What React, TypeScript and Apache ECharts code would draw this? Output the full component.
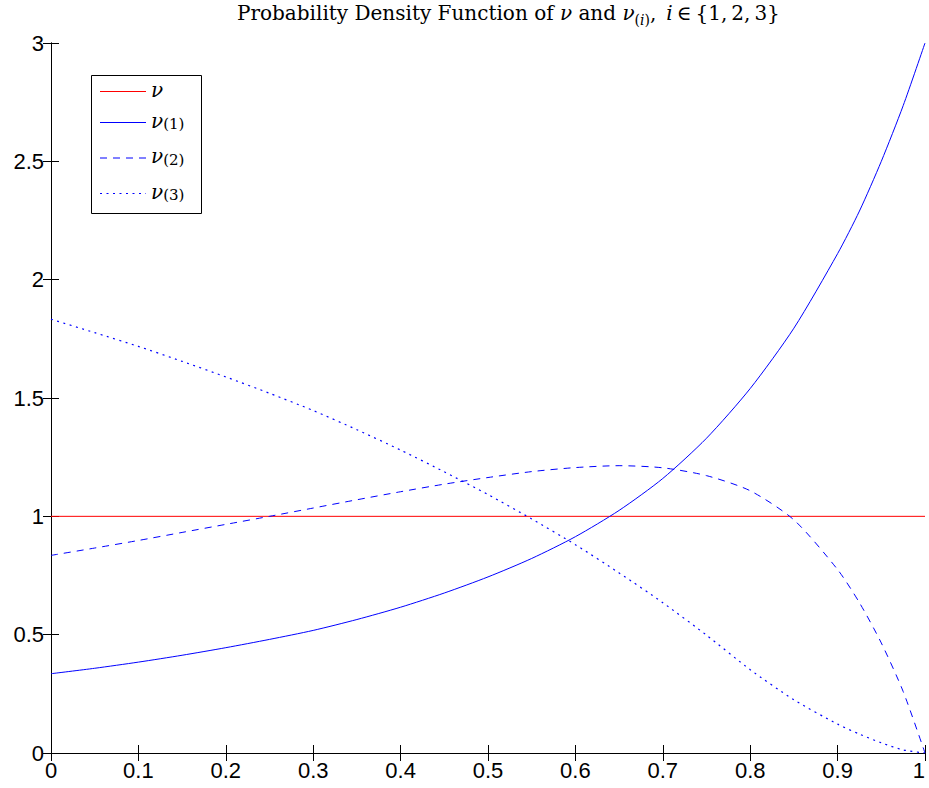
import React, { useEffect, useRef } from "react";
import * as echarts from "echarts";

// ---------- data ----------
const xValues = [0, 0.05, 0.1, 0.15, 0.2, 0.25, 0.3, 0.35, 0.4, 0.45, 0.5, 0.55, 0.6, 0.65, 0.7, 0.75, 0.8, 0.85, 0.9, 0.925, 0.95, 0.975, 1];
const nu1Values = [0.335, 0.358, 0.384, 0.413, 0.445, 0.48, 0.518, 0.564, 0.616, 0.676, 0.744, 0.822, 0.914, 1.025, 1.16, 1.33, 1.54, 1.795, 2.11, 2.29, 2.5, 2.735, 3.0];
const nu2Values = [0.835, 0.866, 0.898, 0.932, 0.966, 1.0, 1.035, 1.07, 1.104, 1.136, 1.164, 1.189, 1.206, 1.214, 1.205, 1.172, 1.108, 0.985, 0.775, 0.635, 0.465, 0.26, 0];
const nu3Values = [1.833, 1.776, 1.718, 1.655, 1.589, 1.52, 1.447, 1.366, 1.28, 1.188, 1.092, 0.989, 0.88, 0.761, 0.635, 0.498, 0.352, 0.225, 0.122, 0.08, 0.043, 0.013, 0];
const nuX = [0, 1];
const nuValues = [1, 1];

const seriesNames = ["ν", "ν(1)", "ν(2)", "ν(3)"];
const legendLabels = ["{v|ν}", "{v|ν}{s|(1)}", "{v|ν}{s|(2)}", "{v|ν}{s|(3)}"];

const xMin = 0, xMax = 1, xStep = 0.1;
const yMin = 0, yMax = 3, yStep = 0.5;

const SANS = "'Liberation Sans', Arial, Helvetica, sans-serif";
const SERIF = "'DejaVu Serif', 'Liberation Serif', serif";
const BLUE = "#0000ff";
const RED = "#ff0000";

const pairs = (xs: number[], ys: number[]) => xs.map((x, i) => [x, ys[i]]);

export default function App() {
  const ref = useRef<HTMLDivElement>(null);
  useEffect(() => {
    if (!ref.current) return;
    const chart = echarts.init(ref.current, null, { renderer: "svg" });

    const axisCommon = {
      axisLine: { show: true, lineStyle: { color: "#000", width: 1 } },
      axisTick: { show: true, inside: true, length: 8, lineStyle: { color: "#000", width: 1 } },
      splitLine: { show: false },
    };
    const labelStyle = { color: "#000", fontSize: 22, fontFamily: SANS };

    const lineStyles = [
      { color: RED, width: 1, type: "solid" },
      { color: BLUE, width: 1, type: "solid" },
      { color: BLUE, width: 1, type: [7, 6] },
      { color: BLUE, width: 1.2, type: [2, 4.5] },
    ];
    const seriesData = [pairs(nuX, nuValues), pairs(xValues, nu1Values), pairs(xValues, nu2Values), pairs(xValues, nu3Values)];

    const legX = 91, legY = 75, legW = 110, legH = 138;
    const rowY = [91.5, 122.5, 158, 193.5];
    const legendGraphics: any[] = [
      {
        type: "rect",
        shape: { x: legX + 0.5, y: legY + 0.5, width: legW, height: legH },
        style: { fill: "#fff", stroke: "#000", lineWidth: 1 },
        z: 100,
      },
    ];
    seriesNames.forEach((name, i) => {
      const ls = lineStyles[i];
      legendGraphics.push({
        type: "line",
        shape: { x1: 100, y1: rowY[i], x2: 146, y2: rowY[i] },
        style: { stroke: ls.color, lineWidth: ls.width, lineDash: Array.isArray(ls.type) ? ls.type : null },
        z: 101,
      });
      legendGraphics.push({
        type: "text",
        x: 151,
        y: rowY[i] - 2,
        z: 101,
        style: {
          text: legendLabels[i],
          verticalAlign: "middle",
          align: "left",
          rich: {
            v: { fontFamily: SERIF, fontStyle: "italic", fontSize: 20, lineHeight: 22, fill: "#000", color: "#000" },
            s: { fontFamily: SERIF, fontSize: 15, lineHeight: 14, verticalAlign: "bottom", fill: "#000", color: "#000" },
          },
        },
      });
    });

    const option: any = {
      animation: false,
      backgroundColor: "#fff",
      title: {
        text: "Probability Density Function of {i|ν} and {i|ν}{s|(}{si|i}{s|)},\u2002{i|i}\u2009∈\u2009{1,\u20092,\u20093}",
        left: 237,
        top: -1,
        padding: 0,
        textStyle: {
          fontFamily: SERIF,
          fontSize: 20,
          fontWeight: "normal",
          color: "#000",
          lineHeight: 28,
          rich: {
            i: { fontFamily: SERIF, fontStyle: "italic", fontSize: 20, lineHeight: 28, color: "#000" },
            s: { fontFamily: SERIF, fontSize: 14, lineHeight: 14, verticalAlign: "bottom", color: "#000" },
            si: { fontFamily: SERIF, fontStyle: "italic", fontSize: 14, lineHeight: 14, verticalAlign: "bottom", color: "#000" },
          },
        },
      },
      grid: { left: 51, right: 4, top: 43, bottom: 35, containLabel: false, outerBoundsMode: "none" },
      xAxis: [
        {
          type: "value", min: xMin, max: xMax, interval: xStep, position: "bottom",
          ...axisCommon,
          axisLabel: { ...labelStyle, margin: 6, alignMaxLabel: "right" },
        },
        {
          type: "value", min: xMin, max: xMax, interval: xStep, position: "top",
          ...axisCommon,
          axisLabel: { show: false },
        },
      ],
      yAxis: [
        {
          type: "value", min: yMin, max: yMax, interval: yStep, position: "left",
          ...axisCommon,
          axisLabel: { ...labelStyle, margin: 7 },
        },
        {
          type: "value", min: yMin, max: yMax, interval: yStep, position: "right",
          ...axisCommon,
          axisLabel: { show: false },
        },
      ],
      series: seriesNames.map((name, i) => ({
        name,
        type: "line",
        xAxisIndex: 0,
        yAxisIndex: 0,
        data: seriesData[i],
        symbol: "none",
        showSymbol: false,
        smooth: i === 0 ? false : 0.25,
        lineStyle: lineStyles[i],
        silent: true,
        z: 3,
      })),
      graphic: legendGraphics,
    };
    chart.setOption(option);
    return () => chart.dispose();
  }, []);
  return (
    <div
      ref={ref}
      style={{ position: "fixed", left: 0, top: 0, width: 929, height: 788, background: "#fff" }}
    />
  );
}
